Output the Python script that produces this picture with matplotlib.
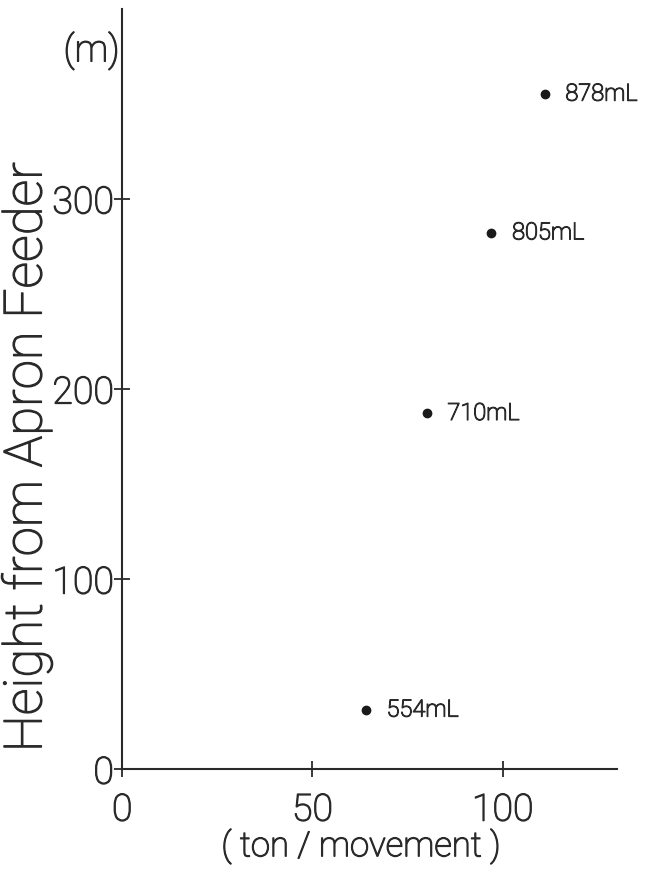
import matplotlib.pyplot as plt
import matplotlib.patheffects as pe

# data
load = [64, 80, 97, 111]          # ton/movement
height = [31, 187, 282, 355]      # m from apron feeder
levels = ["554mL", "710mL", "805mL", "878mL"]

xticks = [0, 50, 100]
yticks = [0, 100, 200, 300]

plt.rcParams['font.family'] = ['Roboto', 'DejaVu Sans']
plt.rcParams['font.weight'] = 'light'
plt.rcParams['axes.labelweight'] = 'light'
ink = '#2a2a2a'
# light face, thickened a little to look like the pen lettering
thick = [pe.withStroke(linewidth=0.9, foreground=ink)]

fig = plt.figure(figsize=(6.5, 8.7), dpi=100)
ax = fig.add_axes([0.188, 0.115, 0.761, 0.874])

ax.plot(load, height, 'o', color='#1a1a1a', markersize=6)
for x, y, lab in zip(load, height, levels):
    ax.annotate(lab, (x, y), xytext=(15, 0), textcoords='offset points',
                va='center', ha='left', fontsize=17, color=ink,
                path_effects=thick)

ax.set_xlim(0, 130)
ax.set_ylim(0, 400)
ax.set_xticks(xticks)
ax.set_yticks(yticks)
ax.set_xticklabels([str(t) for t in xticks], fontsize=27, color=ink,
                   path_effects=thick)
ax.set_yticklabels([str(t) for t in yticks], fontsize=27, color=ink,
                   path_effects=thick)
ax.tick_params(direction='inout', length=12, width=1.3, color=ink)
ax.tick_params(axis='x', pad=10)
ax.tick_params(axis='y', pad=0)

for side in ['top', 'right']:
    ax.spines[side].set_visible(False)
for side in ['left', 'bottom']:
    ax.spines[side].set_linewidth(1.5)
    ax.spines[side].set_color(ink)

ax.set_xlabel('( ton / movement )', fontsize=25, color=ink, path_effects=thick)
ax.xaxis.set_label_coords(0.483, -0.078)
ax.set_ylabel('Height from Apron Feeder', fontsize=38, color=ink,
              path_effects=thick)
ax.yaxis.set_label_coords(-0.14, 0.41)
ax.text(-0.005, 0.945, '(m)', transform=ax.transAxes, ha='right', va='center',
        fontsize=27, color=ink, path_effects=thick)

fig.savefig('out.png', dpi=100, facecolor='white')
